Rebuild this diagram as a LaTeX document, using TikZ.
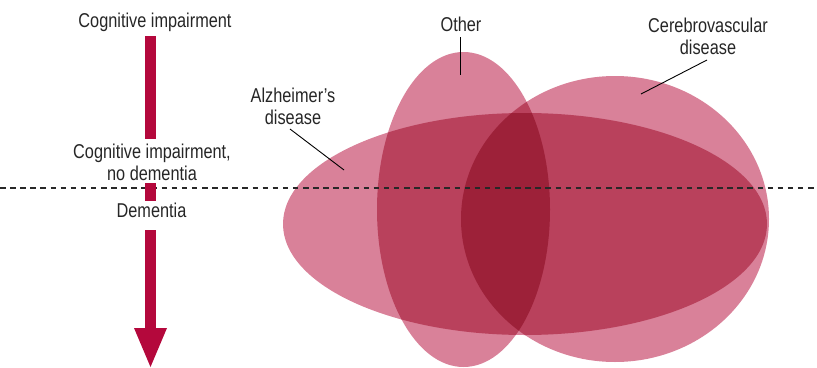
\documentclass[tikz,border=0pt]{standalone}
\usepackage{fontspec}
\setmainfont{Liberation Sans}[FakeStretch=0.815]
\definecolor{pinkA}{RGB}{217,129,153}
\definecolor{pinkB}{RGB}{185,65,92}
\definecolor{pinkC}{RGB}{157,33,57}
\definecolor{arrowred}{RGB}{180,8,60}
\definecolor{dashgray}{RGB}{40,40,40}
\tikzset{
  lbl/.style={inner sep=0pt, align=center, font=\fontsize{20}{22}\selectfont, text=black!85},
  leader/.style={black, line width=0.9pt},
  shaft/.style={arrowred, line width=11pt, line cap=butt},
}
\begin{document}
\begin{tikzpicture}[x=1pt,y=-1pt]
\useasboundingbox (0,0) rectangle (817,367);
\def\ellA{(525,224) ellipse [x radius=242, y radius=111]}
\def\ellO{(463.5,209.5) ellipse [x radius=86.5, y radius=157.5]}
\def\ellV{(615,219) ellipse [x radius=154, y radius=143]}
% single layers
\fill[pinkA] \ellA;
\fill[pinkA] \ellO;
\fill[pinkA] \ellV;
% pairwise overlaps
\begin{scope}\clip \ellA; \fill[pinkB] \ellO; \fill[pinkB] \ellV; \end{scope}
\begin{scope}\clip \ellO; \fill[pinkB] \ellV; \end{scope}
% triple overlap
\begin{scope}\clip \ellA; \clip \ellO; \fill[pinkC] \ellV; \end{scope}
% dashed boundary
\coordinate (dl) at (0,188);
\coordinate (dr) at (817,188);
\draw[dashgray, line width=1.3pt, dash pattern=on 5.5pt off 4.6pt] (dl) -- (dr);
% left labels
\node[lbl] (ci) at (155,22) {Cognitive impairment};
\node[lbl] (cind) at (152,162.5) {Cognitive impairment,\\no dementia};
\node[lbl] (dem) at (151.5,210.5) {Dementia};
% arrow
\coordinate (s1a) at (150.5,36);
\coordinate (s1b) at (150.5,139);
\coordinate (s2a) at (150.5,183);
\coordinate (s2b) at (150.5,201);
\coordinate (s3a) at (150.5,230);
\coordinate (s3b) at (150.5,328.5);
\coordinate (hl) at (134,328);
\coordinate (hr) at (167,328);
\coordinate (ht) at (150.5,367);
\draw[shaft] (s1a) -- (s1b);
\draw[shaft] (s2a) -- (s2b);
\draw[shaft] (s3a) -- (s3b);
\fill[arrowred] (hl) -- (hr) -- (ht) -- cycle;
% disease labels
\node[lbl] (alz) at (293,106) {Alzheimer’s\\disease};
\node[lbl] (oth) at (461,24) {Other};
\node[lbl] (cer) at (708,36) {Cerebrovascular\\disease};
\coordinate (alzp) at (344,170);
\coordinate (othp) at (460,75);
\coordinate (cerp) at (641,94);
\coordinate (alzs) at (290,129);
\coordinate (oths) at (460,37);
\coordinate (cers) at (707,60);
\draw[leader] (alzs) -- (alzp);
\draw[leader] (oths) -- (othp);
\draw[leader] (cers) -- (cerp);
\end{tikzpicture}
\end{document}
